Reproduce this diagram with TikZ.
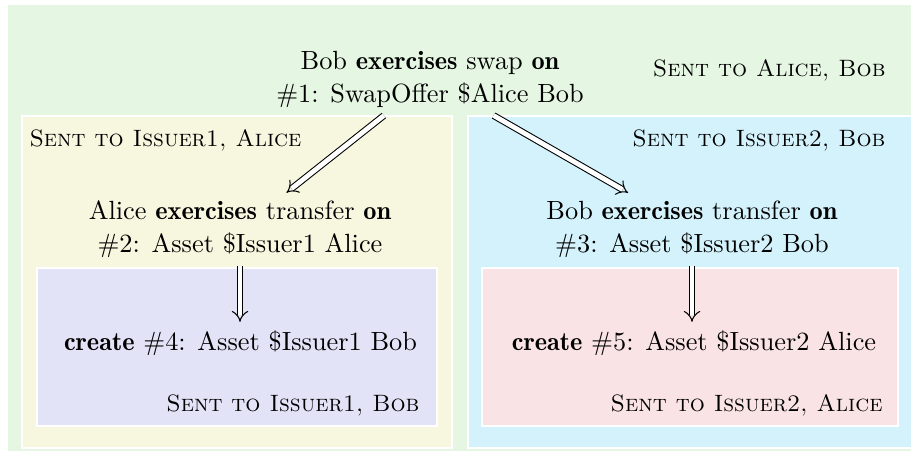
\documentclass[tikz,border=0pt]{standalone}
\usetikzlibrary{arrows.meta}
\definecolor{cgreen}{RGB}{229,247,227}
\definecolor{cyellow}{RGB}{247,247,224}
\definecolor{cblue}{RGB}{212,242,252}
\definecolor{clav}{RGB}{227,227,247}
\definecolor{cpink}{RGB}{249,227,228}
\newcommand{\bw}[1]{{\fontseries{b}\selectfont #1}}
\newcommand{\sentto}[1]{{\fontsize{9}{11}\selectfont\textsc{#1}}}
\begin{document}
\begin{tikzpicture}[x=0.38pt,y=-0.38pt,
  every node/.style={font=\fontsize{10}{12.5}\selectfont},
  region/.style={draw=white, line width=0.4pt},
  act/.style={align=center, inner sep=3pt},
  sentlbl/.style={inner sep=0pt},
  arr/.style={double, double distance=1.8pt, line width=0.4pt, -{Implies[length=4.6pt,width=7pt]}}]
\clip (0,0) rectangle (911,454);
\fill[white] (0,0) rectangle (911,454);
\filldraw[region, fill=cgreen] (7,4) rectangle (928,452);
\filldraw[region, fill=cyellow] (22,116) rectangle (452,448);
\filldraw[region, fill=cblue] (468,116) rectangle (913,448);
\filldraw[region, fill=clav] (37,268) rectangle (437,426);
\filldraw[region, fill=cpink] (482,268) rectangle (898,426);

\node[sentlbl, anchor=base east] (s0) at (886,76) {\sentto{Sent to Alice, Bob}};
\node[sentlbl, anchor=base west] (s1) at (29,146) {\sentto{Sent to Issuer1, Alice}};
\node[sentlbl, anchor=base east] (s2) at (886,146) {\sentto{Sent to Issuer2, Bob}};
\node[sentlbl, anchor=base east] (s3) at (420,411) {\sentto{Sent to Issuer1, Bob}};
\node[sentlbl, anchor=base east] (s4) at (883,411) {\sentto{Sent to Issuer2, Alice}};

\node[act] (swap) at (430,79) {Bob \bw{exercises} swap \bw{on}\\\#1: SwapOffer \$Alice Bob};
\node[act] (alice) at (240,229.5) {Alice \bw{exercises} transfer \bw{on}\\\#2: Asset \$Issuer1 Alice};
\node[act] (bob) at (692,229.5) {Bob \bw{exercises} transfer \bw{on}\\\#3: Asset \$Issuer2 Bob};
\node[act, anchor=base] (create4) at (240.5,350) {\bw{create} \#4: Asset \$Issuer1 Bob};
\node[act, anchor=base] (create5) at (694,350) {\bw{create} \#5: Asset \$Issuer2 Alice};

\draw[arr] (swap) -- (alice);
\draw[arr] (swap) -- (bob);
\draw[arr] (alice.south) -- (alice.south |- create4.north);
\draw[arr] (bob.south) -- (bob.south |- create5.north);
\end{tikzpicture}
\end{document}
